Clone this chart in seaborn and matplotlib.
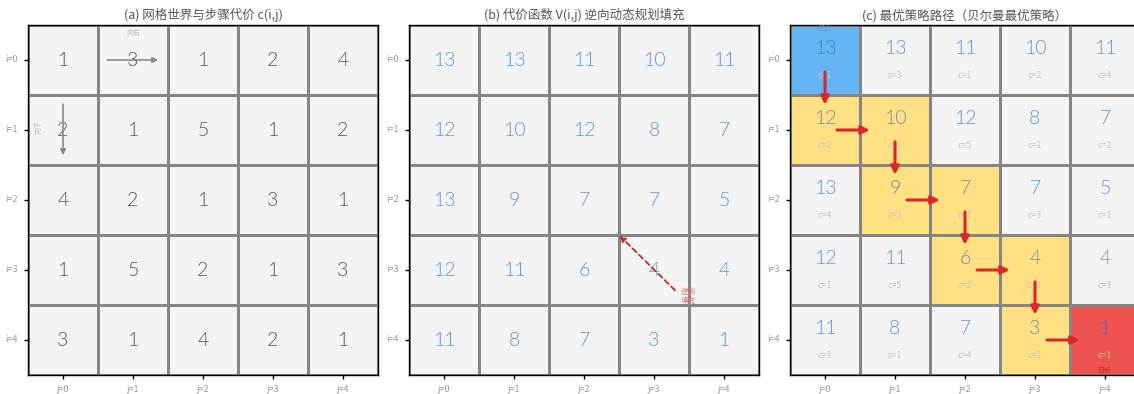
import numpy as np
import matplotlib
matplotlib.use("Agg")
import matplotlib.pyplot as plt
import seaborn as sns
from matplotlib.colors import ListedColormap

sns.set_theme(style="white")
plt.rcParams['font.family'] = ['Noto Sans CJK SC', 'DejaVu Sans']

# ---- data ----
row_labels = ["i=0", "i=1", "i=2", "i=3", "i=4"]
col_labels = ["j=0", "j=1", "j=2", "j=3", "j=4"]

# step cost c(i,j)
step_cost = [
    [1, 3, 1, 2, 4],
    [2, 1, 5, 1, 2],
    [4, 2, 1, 3, 1],
    [1, 5, 2, 1, 3],
    [3, 1, 4, 2, 1],
]

# cost-to-go V(i,j) from backward dynamic programming
value_fn = [
    [13, 13, 11, 10, 11],
    [12, 10, 12, 8, 7],
    [13, 9, 7, 7, 5],
    [12, 11, 6, 4, 4],
    [11, 8, 7, 3, 1],
]

# Bellman-optimal path from start (0,0) to goal (4,4)
optimal_path = [(0, 0), (1, 0), (1, 1), (2, 1), (2, 2), (3, 2), (3, 3), (4, 3), (4, 4)]

titles = [
    "(a) 网格世界与步骤代价 c(i,j)",
    "(b) 代价函数 V(i,j) 逆向动态规划填充",
    "(c) 最优策略路径（贝尔曼最优策略）",
]

# ---- styling ----
CELL_BG = "#f4f4f4"
GRID = "#858585"
BLUE_NUM = "#5a96da"
NUM_FONT = ["Lato", "Noto Sans CJK SC", "DejaVu Sans"]
NUM_WEIGHT = 300

fig = plt.figure(figsize=(11.34, 3.94), dpi=100)
W, H = 1134, 394
ax_w, ax_h = 350 / W, 350 / H
bottom = (H - 375) / H
lefts = [28 / W, 409 / W, 790 / W]
axes = [fig.add_axes([l, bottom, ax_w, ax_h]) for l in lefts]


def style_axes(ax, title):
    for s in ax.spines.values():
        s.set_visible(True)
        s.set_color("black")
        s.set_linewidth(1.0)
    ax.set_xticks(np.arange(5) + 0.5)
    ax.set_yticks(np.arange(5) + 0.5)
    ax.set_xticklabels(col_labels, rotation=0)
    ax.set_yticklabels(row_labels, rotation=0)
    ax.tick_params(left=True, bottom=True, length=3, width=1, color="black",
                   labelsize=6.5, labelcolor="#9a9a9a", pad=4)
    ax.set_xlabel("")
    ax.set_ylabel("")
    ax.set_title(title, fontsize=9, color="#555555", pad=4)


cost = np.array(step_cost)
value = np.array(value_fn)
flat_cmap = ListedColormap([CELL_BG])
LW = 0.8

# (a) step costs
ax = axes[0]
sns.heatmap(cost, ax=ax, cmap=flat_cmap, cbar=False, annot=True, fmt="d",
            linewidths=LW, linecolor=GRID,
            annot_kws={"fontsize": 14, "color": "#555555", "fontweight": NUM_WEIGHT,
                       "family": NUM_FONT})
style_axes(ax, titles[0])
ax.annotate("", xy=(1.86, 0.5), xytext=(1.13, 0.5),
            arrowprops=dict(arrowstyle="-|>", color="#888888", lw=1.2,
                            mutation_scale=8, shrinkA=0, shrinkB=0))
ax.text(1.5, 0.12, "向右", fontsize=5, color="#bbbbbb", ha="center", va="center")
ax.annotate("", xy=(0.5, 1.86), xytext=(0.5, 1.13),
            arrowprops=dict(arrowstyle="-|>", color="#888888", lw=1.2,
                            mutation_scale=8, shrinkA=0, shrinkB=0))
ax.text(0.15, 1.45, "向下", fontsize=5, color="#bbbbbb", ha="center", va="center",
        rotation=90)

# (b) value function
ax = axes[1]
sns.heatmap(value, ax=ax, cmap=flat_cmap, cbar=False, annot=True, fmt="d",
            linewidths=LW, linecolor=GRID,
            annot_kws={"fontsize": 14, "color": BLUE_NUM, "fontweight": NUM_WEIGHT,
                       "family": NUM_FONT})
style_axes(ax, titles[1])
ax.annotate("", xy=(3.01, 3.01), xytext=(3.8, 3.79),
            arrowprops=dict(arrowstyle="-|>", color="#c62828", lw=1.3,
                            linestyle=(0, (3, 2)), mutation_scale=8,
                            shrinkA=0, shrinkB=0))
ax.text(3.88, 3.88, "逆向\n填充", fontsize=5.5, color="#e57373",
        ha="left", va="center", linespacing=1.1)

# (c) optimal policy path
ax = axes[2]
codes = np.zeros((5, 5), dtype=int)
for (i, j) in optimal_path[1:-1]:
    codes[i, j] = 1
codes[optimal_path[0]] = 2
codes[optimal_path[-1]] = 3
path_cmap = ListedColormap([CELL_BG, "#ffe082", "#64b5f6", "#ef5350"])
sns.heatmap(codes, ax=ax, cmap=path_cmap, vmin=-0.5, vmax=3.5, cbar=False,
            annot=False, linewidths=LW, linecolor=GRID)
style_axes(ax, titles[2])

num_colors = {0: BLUE_NUM, 1: "#7a8ba2", 2: "#3f7cc4", 3: "#5a5fa8"}
for i in range(5):
    for j in range(5):
        ax.text(j + 0.5, i + 0.34, str(value[i, j]), fontsize=14,
                fontweight=NUM_WEIGHT, family=NUM_FONT,
                color=num_colors[codes[i, j]], ha="center", va="center")
        ax.text(j + 0.5, i + 0.72, f"c={cost[i, j]}", fontsize=6.3,
                color="#c4c4c4", ha="center", va="center")

for (i0, j0), (i1, j1) in zip(optimal_path[:-1], optimal_path[1:]):
    di, dj = i1 - i0, j1 - j0
    cx, cy = j0 + 0.5, i0 + 0.5
    ax.annotate("", xy=(cx + 0.64 * dj, cy + 0.64 * di),
                xytext=(cx + 0.17 * dj, cy + 0.17 * di),
                arrowprops=dict(arrowstyle="-|>", color="#d8282a", lw=2.2,
                                mutation_scale=12, shrinkA=0, shrinkB=0),
                zorder=5)

ax.text(0.5, 0.04, "起点", fontsize=5, color="#5a9de0", ha="center", va="center")
ax.text(4.5, 4.95, "目标", fontsize=5, color="#c62828", ha="center", va="center")

fig.savefig("out.png", dpi=100)
